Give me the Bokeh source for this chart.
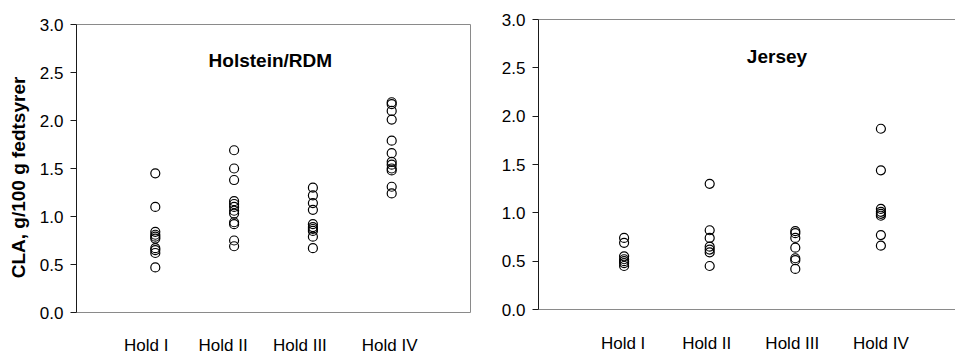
from bokeh.plotting import figure
from bokeh.layouts import row
from bokeh.models import (Label, FixedTicker, NumeralTickFormatter, Range1d,
                          ColumnDataSource)
from bokeh.core.properties import value
from bokeh.embed import file_html
from bokeh.resources import INLINE

# Farms (x categories) and y tick values
holds = ["Hold I", "Hold II", "Hold III", "Hold IV"]
hold_pos = [1, 2, 3, 4]
y_ticks = [0.0, 0.5, 1.0, 1.5, 2.0, 2.5, 3.0]
y_label = "CLA, g/100 g fedtsyrer"

# CLA per cow, Holstein/RDM herds
holstein_hold1 = [1.45, 1.10, 0.84, 0.81, 0.79, 0.77, 0.67, 0.65, 0.62, 0.47]
holstein_hold2 = [1.69, 1.50, 1.38, 1.16, 1.13, 1.10, 1.06, 1.03, 0.94, 0.92, 0.75, 0.69]
holstein_hold3 = [1.30, 1.22, 1.14, 1.07, 0.92, 0.89, 0.87, 0.85, 0.79, 0.67]
holstein_hold4 = [2.19, 2.17, 2.10, 2.01, 1.79, 1.66, 1.57, 1.54, 1.50, 1.48, 1.31, 1.24]

# CLA per cow, Jersey herds
jersey_hold1 = [0.74, 0.69, 0.55, 0.52, 0.50, 0.48, 0.45]
jersey_hold2 = [1.30, 0.82, 0.74, 0.65, 0.62, 0.59, 0.45]
jersey_hold3 = [0.81, 0.79, 0.74, 0.64, 0.53, 0.51, 0.42]
jersey_hold4 = [1.87, 1.44, 1.04, 1.01, 0.99, 0.97, 0.77, 0.66]

FONT = "Liberation Sans"
FRAME_GREY = "#8a8a8a"
HEIGHT = 354
X_BOX = 5.0      # the plot box spans x = 0 .. 5
Y_BOX = 3.0      # and y = 0 .. 3


def make_panel(title, groups, width, border_left, box_px, box_top, box_bottom,
               title_xy, label_y, label_dx, show_ylabel):
    # The drawing area fills the full height; the box (0..5, 0..3) is placed inside it
    frame_w = width - border_left
    px_x = box_px / X_BOX
    px_y = (box_bottom - box_top) / Y_BOX
    y_lo = -(HEIGHT - box_bottom) / px_y
    y_hi = Y_BOX + box_top / px_y

    p = figure(width=width, height=HEIGHT, output_backend="svg", toolbar_location=None,
               x_range=Range1d(0, frame_w / px_x), y_range=Range1d(y_lo, y_hi),
               x_axis_location=None,
               min_border_left=border_left, min_border_right=0,
               min_border_top=0, min_border_bottom=0,
               background_fill_color="white", border_fill_color="white")
    p.grid.visible = False
    p.outline_line_color = None

    # grey plot box (its right side falls outside the Jersey panel)
    p.quad(left=[0], right=[X_BOX], bottom=[0], top=[Y_BOX], fill_color=None,
           line_color=FRAME_GREY, line_width=1)

    ax = p.yaxis[0]
    ax.bounds = (0, Y_BOX)
    ax.ticker = FixedTicker(ticks=y_ticks)
    ax.formatter = NumeralTickFormatter(format="0.0")
    ax.major_tick_in = 0
    ax.major_tick_out = 6
    ax.minor_tick_line_color = None
    ax.axis_line_color = "#1a1a1a"
    ax.major_tick_line_color = "#1a1a1a"
    ax.major_label_standoff = 7
    ax.major_label_text_font = FONT
    ax.major_label_text_font_size = "17px"
    ax.major_label_text_color = "black"
    if show_ylabel:
        ax.axis_label = y_label
        ax.axis_label_text_font = FONT
        ax.axis_label_text_font_size = "19px"
        ax.axis_label_text_font_style = "bold"
        ax.axis_label_text_color = "black"
        ax.axis_label_standoff = 8

    xs, ys = [], []
    for pos, vals in zip(hold_pos, groups):
        xs += [pos] * len(vals)
        ys += vals
    src = ColumnDataSource(data=dict(x=xs, y=ys))
    p.scatter("x", "y", source=src, marker="circle", size=9, fill_color=None,
              line_color="black", line_width=1.2)

    # farm names under the box
    names = ColumnDataSource(data=dict(x=hold_pos, y=[label_y] * len(holds),
                                       text=holds, dx=label_dx))
    p.text("x", "y", text="text", x_offset="dx", source=names, text_align="center",
           text_baseline="alphabetic", text_font=value(FONT), text_font_size="17px",
           text_color="black")

    p.add_layout(Label(x=title_xy[0], y=title_xy[1], text=title, text_align="center",
                       text_baseline="alphabetic", text_font=FONT,
                       text_font_size="19px", text_font_style="bold",
                       text_color="black"))
    return p


left = make_panel("Holstein/RDM",
                  [holstein_hold1, holstein_hold2, holstein_hold3, holstein_hold4],
                  width=472, border_left=76, box_px=394, box_top=24, box_bottom=312,
                  title_xy=(2.46, 2.625), label_y=-0.343, label_dx=[-9, -11, -13, -2],
                  show_ylabel=True)
right = make_panel("Jersey",
                   [jersey_hold1, jersey_hold2, jersey_hold3, jersey_hold4],
                   width=483, border_left=66, box_px=428, box_top=19, box_bottom=309,
                   title_xy=(2.786, 2.617), label_y=-0.355, label_dx=[-1, -3, -3, 0],
                   show_ylabel=False)

layout = row(left, right)
open("out.html", "w").write(file_html(layout, INLINE))
